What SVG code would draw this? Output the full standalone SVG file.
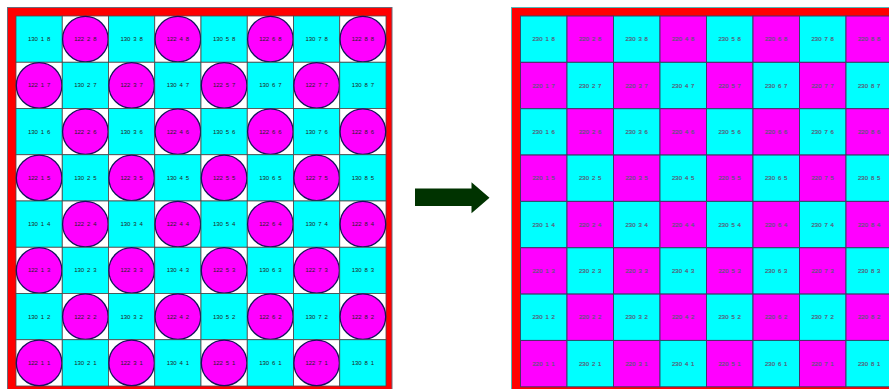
<svg xmlns="http://www.w3.org/2000/svg" width="889" height="389" viewBox="0 0 889 389">
<style>
.bg{fill:#fff}
.frame{fill:#ff0000;stroke:#6a6a7a;stroke-width:1}
.frame2{fill:#ff0000;stroke:#4fb8b8;stroke-width:1}
.lc{fill:#00ffff;stroke:#4a4a4a;stroke-width:0.8}
.lw{fill:#ffffff;stroke:#4a4a4a;stroke-width:0.8}
.ci{fill:#ff00ff;stroke:#14145a;stroke-width:1.3}
.rc{fill:#00ffff;stroke:#2f4a6a;stroke-width:1}
.rm{fill:#ff00ff;stroke:#4a2f6a;stroke-width:1}
text{font-family:"Liberation Sans",Arial,sans-serif;font-size:6px;text-anchor:middle;dominant-baseline:central;word-spacing:1.2px}
.lt{fill:#222}
.rt{fill:#4a4a66;stroke:#6a6a88;stroke-width:0.2}
.arrow{fill:#003300}
</style>
<defs>
<g id="lcy"><rect class="lc" width="46.25" height="46.25"/></g>
<g id="lci"><rect class="lw" width="46.25" height="46.25"/><circle class="ci" cx="23.125" cy="23.125" r="22.8"/></g>
<rect id="rcy" class="rc" width="46.5" height="46.35"/>
<rect id="rma" class="rm" width="46.5" height="46.35"/>
</defs>
<rect class="bg" width="889" height="389"/>
<g id="board-left">
<rect class="frame" x="7.5" y="7.5" width="384.5" height="390"/>
<g id="L1-8" transform="translate(16,16)"><use href="#lcy"/><text class="lt" x="23.1" y="23.1">130 1 8</text></g>
<g id="L2-8" transform="translate(62.25,16)"><use href="#lci"/><text class="lt" x="23.1" y="23.1">122 2 8</text></g>
<g id="L3-8" transform="translate(108.5,16)"><use href="#lcy"/><text class="lt" x="23.1" y="23.1">130 3 8</text></g>
<g id="L4-8" transform="translate(154.75,16)"><use href="#lci"/><text class="lt" x="23.1" y="23.1">122 4 8</text></g>
<g id="L5-8" transform="translate(201,16)"><use href="#lcy"/><text class="lt" x="23.1" y="23.1">130 5 8</text></g>
<g id="L6-8" transform="translate(247.25,16)"><use href="#lci"/><text class="lt" x="23.1" y="23.1">122 6 8</text></g>
<g id="L7-8" transform="translate(293.5,16)"><use href="#lcy"/><text class="lt" x="23.1" y="23.1">130 7 8</text></g>
<g id="L8-8" transform="translate(339.75,16)"><use href="#lci"/><text class="lt" x="23.1" y="23.1">122 8 8</text></g>

<g id="L1-7" transform="translate(16,62.25)"><use href="#lci"/><text class="lt" x="23.1" y="23.1">122 1 7</text></g>
<g id="L2-7" transform="translate(62.25,62.25)"><use href="#lcy"/><text class="lt" x="23.1" y="23.1">130 2 7</text></g>
<g id="L3-7" transform="translate(108.5,62.25)"><use href="#lci"/><text class="lt" x="23.1" y="23.1">122 3 7</text></g>
<g id="L4-7" transform="translate(154.75,62.25)"><use href="#lcy"/><text class="lt" x="23.1" y="23.1">130 4 7</text></g>
<g id="L5-7" transform="translate(201,62.25)"><use href="#lci"/><text class="lt" x="23.1" y="23.1">122 5 7</text></g>
<g id="L6-7" transform="translate(247.25,62.25)"><use href="#lcy"/><text class="lt" x="23.1" y="23.1">130 6 7</text></g>
<g id="L7-7" transform="translate(293.5,62.25)"><use href="#lci"/><text class="lt" x="23.1" y="23.1">122 7 7</text></g>
<g id="L8-7" transform="translate(339.75,62.25)"><use href="#lcy"/><text class="lt" x="23.1" y="23.1">130 8 7</text></g>

<g id="L1-6" transform="translate(16,108.5)"><use href="#lcy"/><text class="lt" x="23.1" y="23.1">130 1 6</text></g>
<g id="L2-6" transform="translate(62.25,108.5)"><use href="#lci"/><text class="lt" x="23.1" y="23.1">122 2 6</text></g>
<g id="L3-6" transform="translate(108.5,108.5)"><use href="#lcy"/><text class="lt" x="23.1" y="23.1">130 3 6</text></g>
<g id="L4-6" transform="translate(154.75,108.5)"><use href="#lci"/><text class="lt" x="23.1" y="23.1">122 4 6</text></g>
<g id="L5-6" transform="translate(201,108.5)"><use href="#lcy"/><text class="lt" x="23.1" y="23.1">130 5 6</text></g>
<g id="L6-6" transform="translate(247.25,108.5)"><use href="#lci"/><text class="lt" x="23.1" y="23.1">122 6 6</text></g>
<g id="L7-6" transform="translate(293.5,108.5)"><use href="#lcy"/><text class="lt" x="23.1" y="23.1">130 7 6</text></g>
<g id="L8-6" transform="translate(339.75,108.5)"><use href="#lci"/><text class="lt" x="23.1" y="23.1">122 8 6</text></g>

<g id="L1-5" transform="translate(16,154.75)"><use href="#lci"/><text class="lt" x="23.1" y="23.1">122 1 5</text></g>
<g id="L2-5" transform="translate(62.25,154.75)"><use href="#lcy"/><text class="lt" x="23.1" y="23.1">130 2 5</text></g>
<g id="L3-5" transform="translate(108.5,154.75)"><use href="#lci"/><text class="lt" x="23.1" y="23.1">122 3 5</text></g>
<g id="L4-5" transform="translate(154.75,154.75)"><use href="#lcy"/><text class="lt" x="23.1" y="23.1">130 4 5</text></g>
<g id="L5-5" transform="translate(201,154.75)"><use href="#lci"/><text class="lt" x="23.1" y="23.1">122 5 5</text></g>
<g id="L6-5" transform="translate(247.25,154.75)"><use href="#lcy"/><text class="lt" x="23.1" y="23.1">130 6 5</text></g>
<g id="L7-5" transform="translate(293.5,154.75)"><use href="#lci"/><text class="lt" x="23.1" y="23.1">122 7 5</text></g>
<g id="L8-5" transform="translate(339.75,154.75)"><use href="#lcy"/><text class="lt" x="23.1" y="23.1">130 8 5</text></g>

<g id="L1-4" transform="translate(16,201)"><use href="#lcy"/><text class="lt" x="23.1" y="23.1">130 1 4</text></g>
<g id="L2-4" transform="translate(62.25,201)"><use href="#lci"/><text class="lt" x="23.1" y="23.1">122 2 4</text></g>
<g id="L3-4" transform="translate(108.5,201)"><use href="#lcy"/><text class="lt" x="23.1" y="23.1">130 3 4</text></g>
<g id="L4-4" transform="translate(154.75,201)"><use href="#lci"/><text class="lt" x="23.1" y="23.1">122 4 4</text></g>
<g id="L5-4" transform="translate(201,201)"><use href="#lcy"/><text class="lt" x="23.1" y="23.1">130 5 4</text></g>
<g id="L6-4" transform="translate(247.25,201)"><use href="#lci"/><text class="lt" x="23.1" y="23.1">122 6 4</text></g>
<g id="L7-4" transform="translate(293.5,201)"><use href="#lcy"/><text class="lt" x="23.1" y="23.1">130 7 4</text></g>
<g id="L8-4" transform="translate(339.75,201)"><use href="#lci"/><text class="lt" x="23.1" y="23.1">122 8 4</text></g>

<g id="L1-3" transform="translate(16,247.25)"><use href="#lci"/><text class="lt" x="23.1" y="23.1">122 1 3</text></g>
<g id="L2-3" transform="translate(62.25,247.25)"><use href="#lcy"/><text class="lt" x="23.1" y="23.1">130 2 3</text></g>
<g id="L3-3" transform="translate(108.5,247.25)"><use href="#lci"/><text class="lt" x="23.1" y="23.1">122 3 3</text></g>
<g id="L4-3" transform="translate(154.75,247.25)"><use href="#lcy"/><text class="lt" x="23.1" y="23.1">130 4 3</text></g>
<g id="L5-3" transform="translate(201,247.25)"><use href="#lci"/><text class="lt" x="23.1" y="23.1">122 5 3</text></g>
<g id="L6-3" transform="translate(247.25,247.25)"><use href="#lcy"/><text class="lt" x="23.1" y="23.1">130 6 3</text></g>
<g id="L7-3" transform="translate(293.5,247.25)"><use href="#lci"/><text class="lt" x="23.1" y="23.1">122 7 3</text></g>
<g id="L8-3" transform="translate(339.75,247.25)"><use href="#lcy"/><text class="lt" x="23.1" y="23.1">130 8 3</text></g>

<g id="L1-2" transform="translate(16,293.5)"><use href="#lcy"/><text class="lt" x="23.1" y="23.1">130 1 2</text></g>
<g id="L2-2" transform="translate(62.25,293.5)"><use href="#lci"/><text class="lt" x="23.1" y="23.1">122 2 2</text></g>
<g id="L3-2" transform="translate(108.5,293.5)"><use href="#lcy"/><text class="lt" x="23.1" y="23.1">130 3 2</text></g>
<g id="L4-2" transform="translate(154.75,293.5)"><use href="#lci"/><text class="lt" x="23.1" y="23.1">122 4 2</text></g>
<g id="L5-2" transform="translate(201,293.5)"><use href="#lcy"/><text class="lt" x="23.1" y="23.1">130 5 2</text></g>
<g id="L6-2" transform="translate(247.25,293.5)"><use href="#lci"/><text class="lt" x="23.1" y="23.1">122 6 2</text></g>
<g id="L7-2" transform="translate(293.5,293.5)"><use href="#lcy"/><text class="lt" x="23.1" y="23.1">130 7 2</text></g>
<g id="L8-2" transform="translate(339.75,293.5)"><use href="#lci"/><text class="lt" x="23.1" y="23.1">122 8 2</text></g>

<g id="L1-1" transform="translate(16,339.75)"><use href="#lci"/><text class="lt" x="23.1" y="23.1">122 1 1</text></g>
<g id="L2-1" transform="translate(62.25,339.75)"><use href="#lcy"/><text class="lt" x="23.1" y="23.1">130 2 1</text></g>
<g id="L3-1" transform="translate(108.5,339.75)"><use href="#lci"/><text class="lt" x="23.1" y="23.1">122 3 1</text></g>
<g id="L4-1" transform="translate(154.75,339.75)"><use href="#lcy"/><text class="lt" x="23.1" y="23.1">130 4 1</text></g>
<g id="L5-1" transform="translate(201,339.75)"><use href="#lci"/><text class="lt" x="23.1" y="23.1">122 5 1</text></g>
<g id="L6-1" transform="translate(247.25,339.75)"><use href="#lcy"/><text class="lt" x="23.1" y="23.1">130 6 1</text></g>
<g id="L7-1" transform="translate(293.5,339.75)"><use href="#lci"/><text class="lt" x="23.1" y="23.1">122 7 1</text></g>
<g id="L8-1" transform="translate(339.75,339.75)"><use href="#lcy"/><text class="lt" x="23.1" y="23.1">130 8 1</text></g>
</g>

<g id="connectors">
<polygon class="arrow" points="415,188.5 471.5,188.5 471.5,182.3 489.5,197.7 471.5,213.3 471.5,206 415,206"/>
</g>

<g id="board-right">
<rect class="frame2" x="511.5" y="7.5" width="400" height="390"/>
<g id="R1-8" transform="translate(520.5,16)"><use href="#rcy"/><text class="rt" x="23.25" y="23.2">230 1 8</text></g>
<g id="R2-8" transform="translate(567,16)"><use href="#rma"/><text class="rt" x="23.25" y="23.2">220 2 8</text></g>
<g id="R3-8" transform="translate(613.5,16)"><use href="#rcy"/><text class="rt" x="23.25" y="23.2">230 3 8</text></g>
<g id="R4-8" transform="translate(660,16)"><use href="#rma"/><text class="rt" x="23.25" y="23.2">220 4 8</text></g>
<g id="R5-8" transform="translate(706.5,16)"><use href="#rcy"/><text class="rt" x="23.25" y="23.2">230 5 8</text></g>
<g id="R6-8" transform="translate(753,16)"><use href="#rma"/><text class="rt" x="23.25" y="23.2">220 6 8</text></g>
<g id="R7-8" transform="translate(799.5,16)"><use href="#rcy"/><text class="rt" x="23.25" y="23.2">230 7 8</text></g>
<g id="R8-8" transform="translate(846,16)"><use href="#rma"/><text class="rt" x="23.25" y="23.2">220 8 8</text></g>

<g id="R1-7" transform="translate(520.5,62.35)"><use href="#rma"/><text class="rt" x="23.25" y="23.2">220 1 7</text></g>
<g id="R2-7" transform="translate(567,62.35)"><use href="#rcy"/><text class="rt" x="23.25" y="23.2">230 2 7</text></g>
<g id="R3-7" transform="translate(613.5,62.35)"><use href="#rma"/><text class="rt" x="23.25" y="23.2">220 3 7</text></g>
<g id="R4-7" transform="translate(660,62.35)"><use href="#rcy"/><text class="rt" x="23.25" y="23.2">230 4 7</text></g>
<g id="R5-7" transform="translate(706.5,62.35)"><use href="#rma"/><text class="rt" x="23.25" y="23.2">220 5 7</text></g>
<g id="R6-7" transform="translate(753,62.35)"><use href="#rcy"/><text class="rt" x="23.25" y="23.2">230 6 7</text></g>
<g id="R7-7" transform="translate(799.5,62.35)"><use href="#rma"/><text class="rt" x="23.25" y="23.2">220 7 7</text></g>
<g id="R8-7" transform="translate(846,62.35)"><use href="#rcy"/><text class="rt" x="23.25" y="23.2">230 8 7</text></g>

<g id="R1-6" transform="translate(520.5,108.7)"><use href="#rcy"/><text class="rt" x="23.25" y="23.2">230 1 6</text></g>
<g id="R2-6" transform="translate(567,108.7)"><use href="#rma"/><text class="rt" x="23.25" y="23.2">220 2 6</text></g>
<g id="R3-6" transform="translate(613.5,108.7)"><use href="#rcy"/><text class="rt" x="23.25" y="23.2">230 3 6</text></g>
<g id="R4-6" transform="translate(660,108.7)"><use href="#rma"/><text class="rt" x="23.25" y="23.2">220 4 6</text></g>
<g id="R5-6" transform="translate(706.5,108.7)"><use href="#rcy"/><text class="rt" x="23.25" y="23.2">230 5 6</text></g>
<g id="R6-6" transform="translate(753,108.7)"><use href="#rma"/><text class="rt" x="23.25" y="23.2">220 6 6</text></g>
<g id="R7-6" transform="translate(799.5,108.7)"><use href="#rcy"/><text class="rt" x="23.25" y="23.2">230 7 6</text></g>
<g id="R8-6" transform="translate(846,108.7)"><use href="#rma"/><text class="rt" x="23.25" y="23.2">220 8 6</text></g>

<g id="R1-5" transform="translate(520.5,155.05)"><use href="#rma"/><text class="rt" x="23.25" y="23.2">220 1 5</text></g>
<g id="R2-5" transform="translate(567,155.05)"><use href="#rcy"/><text class="rt" x="23.25" y="23.2">230 2 5</text></g>
<g id="R3-5" transform="translate(613.5,155.05)"><use href="#rma"/><text class="rt" x="23.25" y="23.2">220 3 5</text></g>
<g id="R4-5" transform="translate(660,155.05)"><use href="#rcy"/><text class="rt" x="23.25" y="23.2">230 4 5</text></g>
<g id="R5-5" transform="translate(706.5,155.05)"><use href="#rma"/><text class="rt" x="23.25" y="23.2">220 5 5</text></g>
<g id="R6-5" transform="translate(753,155.05)"><use href="#rcy"/><text class="rt" x="23.25" y="23.2">230 6 5</text></g>
<g id="R7-5" transform="translate(799.5,155.05)"><use href="#rma"/><text class="rt" x="23.25" y="23.2">220 7 5</text></g>
<g id="R8-5" transform="translate(846,155.05)"><use href="#rcy"/><text class="rt" x="23.25" y="23.2">230 8 5</text></g>

<g id="R1-4" transform="translate(520.5,201.4)"><use href="#rcy"/><text class="rt" x="23.25" y="23.2">230 1 4</text></g>
<g id="R2-4" transform="translate(567,201.4)"><use href="#rma"/><text class="rt" x="23.25" y="23.2">220 2 4</text></g>
<g id="R3-4" transform="translate(613.5,201.4)"><use href="#rcy"/><text class="rt" x="23.25" y="23.2">230 3 4</text></g>
<g id="R4-4" transform="translate(660,201.4)"><use href="#rma"/><text class="rt" x="23.25" y="23.2">220 4 4</text></g>
<g id="R5-4" transform="translate(706.5,201.4)"><use href="#rcy"/><text class="rt" x="23.25" y="23.2">230 5 4</text></g>
<g id="R6-4" transform="translate(753,201.4)"><use href="#rma"/><text class="rt" x="23.25" y="23.2">220 6 4</text></g>
<g id="R7-4" transform="translate(799.5,201.4)"><use href="#rcy"/><text class="rt" x="23.25" y="23.2">230 7 4</text></g>
<g id="R8-4" transform="translate(846,201.4)"><use href="#rma"/><text class="rt" x="23.25" y="23.2">220 8 4</text></g>

<g id="R1-3" transform="translate(520.5,247.75)"><use href="#rma"/><text class="rt" x="23.25" y="23.2">220 1 3</text></g>
<g id="R2-3" transform="translate(567,247.75)"><use href="#rcy"/><text class="rt" x="23.25" y="23.2">230 2 3</text></g>
<g id="R3-3" transform="translate(613.5,247.75)"><use href="#rma"/><text class="rt" x="23.25" y="23.2">220 3 3</text></g>
<g id="R4-3" transform="translate(660,247.75)"><use href="#rcy"/><text class="rt" x="23.25" y="23.2">230 4 3</text></g>
<g id="R5-3" transform="translate(706.5,247.75)"><use href="#rma"/><text class="rt" x="23.25" y="23.2">220 5 3</text></g>
<g id="R6-3" transform="translate(753,247.75)"><use href="#rcy"/><text class="rt" x="23.25" y="23.2">230 6 3</text></g>
<g id="R7-3" transform="translate(799.5,247.75)"><use href="#rma"/><text class="rt" x="23.25" y="23.2">220 7 3</text></g>
<g id="R8-3" transform="translate(846,247.75)"><use href="#rcy"/><text class="rt" x="23.25" y="23.2">230 8 3</text></g>

<g id="R1-2" transform="translate(520.5,294.1)"><use href="#rcy"/><text class="rt" x="23.25" y="23.2">230 1 2</text></g>
<g id="R2-2" transform="translate(567,294.1)"><use href="#rma"/><text class="rt" x="23.25" y="23.2">220 2 2</text></g>
<g id="R3-2" transform="translate(613.5,294.1)"><use href="#rcy"/><text class="rt" x="23.25" y="23.2">230 3 2</text></g>
<g id="R4-2" transform="translate(660,294.1)"><use href="#rma"/><text class="rt" x="23.25" y="23.2">220 4 2</text></g>
<g id="R5-2" transform="translate(706.5,294.1)"><use href="#rcy"/><text class="rt" x="23.25" y="23.2">230 5 2</text></g>
<g id="R6-2" transform="translate(753,294.1)"><use href="#rma"/><text class="rt" x="23.25" y="23.2">220 6 2</text></g>
<g id="R7-2" transform="translate(799.5,294.1)"><use href="#rcy"/><text class="rt" x="23.25" y="23.2">230 7 2</text></g>
<g id="R8-2" transform="translate(846,294.1)"><use href="#rma"/><text class="rt" x="23.25" y="23.2">220 8 2</text></g>

<g id="R1-1" transform="translate(520.5,340.45)"><use href="#rma"/><text class="rt" x="23.25" y="23.2">220 1 1</text></g>
<g id="R2-1" transform="translate(567,340.45)"><use href="#rcy"/><text class="rt" x="23.25" y="23.2">230 2 1</text></g>
<g id="R3-1" transform="translate(613.5,340.45)"><use href="#rma"/><text class="rt" x="23.25" y="23.2">220 3 1</text></g>
<g id="R4-1" transform="translate(660,340.45)"><use href="#rcy"/><text class="rt" x="23.25" y="23.2">230 4 1</text></g>
<g id="R5-1" transform="translate(706.5,340.45)"><use href="#rma"/><text class="rt" x="23.25" y="23.2">220 5 1</text></g>
<g id="R6-1" transform="translate(753,340.45)"><use href="#rcy"/><text class="rt" x="23.25" y="23.2">230 6 1</text></g>
<g id="R7-1" transform="translate(799.5,340.45)"><use href="#rma"/><text class="rt" x="23.25" y="23.2">220 7 1</text></g>
<g id="R8-1" transform="translate(846,340.45)"><use href="#rcy"/><text class="rt" x="23.25" y="23.2">230 8 1</text></g>
</g>
</svg>
